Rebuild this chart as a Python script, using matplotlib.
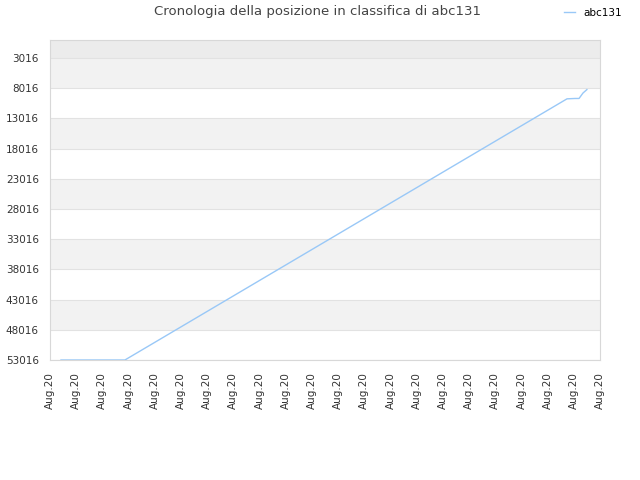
import matplotlib
matplotlib.use("Agg")
import matplotlib.pyplot as plt

# Data
x_labels = ["Aug.20"] * 22
x_pos = [0.42, 2.86, 19.74, 20.05, 20.2, 20.35, 20.5]
rank = [53016, 53016, 9760, 9700, 9700, 8800, 8230]
y_ticks = [3016, 8016, 13016, 18016, 23016, 28016, 33016, 38016, 43016, 48016, 53016]
series_name = "abc131"
title = "Cronologia della posizione in classifica di abc131"

fig = plt.figure(figsize=(6.4, 4.8), dpi=100)
ax = fig.add_axes([50/640, 1-360/480, 550/640, 320/480])

ymin, ymax = 16, 53016
# bands
ax.axhspan(ymin, y_ticks[0], color="#ececec", zorder=0, lw=0)
for i in range(len(y_ticks)-1):
    if i % 2 == 0:
        ax.axhspan(y_ticks[i], y_ticks[i+1], color="#f2f2f2", zorder=0, lw=0)
for t in y_ticks:
    ax.axhline(t, color="#e2e2e2", lw=0.8, zorder=1)

ax.plot(x_pos, rank, color="#99c8f7", lw=1.0, zorder=3, label=series_name)

ax.set_xlim(0, 21)
ax.set_ylim(ymax, ymin)
ax.set_yticks(y_ticks)
ax.set_yticklabels([str(t) for t in y_ticks], fontsize=7.5, color="#333333")
ax.set_xticks(range(22))
ax.set_xticklabels(x_labels, rotation=90, fontsize=7.5, color="#333333")
ax.tick_params(axis="y", length=0, pad=8)
ax.tick_params(axis="x", length=0, pad=9)
for s in ax.spines.values():
    s.set_color("#d8d8d8")
    s.set_linewidth(0.8)

fig.text(318/640, 1-12/480, title, ha="center", va="center", fontsize=9.5, color="#444444")
leg = fig.legend(handles=ax.get_lines()[-1:], labels=[series_name], loc="center",
                 bbox_to_anchor=(593/640, 1-13/480), frameon=False, fontsize=7.5,
                 handlelength=1.0, handletextpad=0.8)

fig.savefig("out.png", dpi=100)
